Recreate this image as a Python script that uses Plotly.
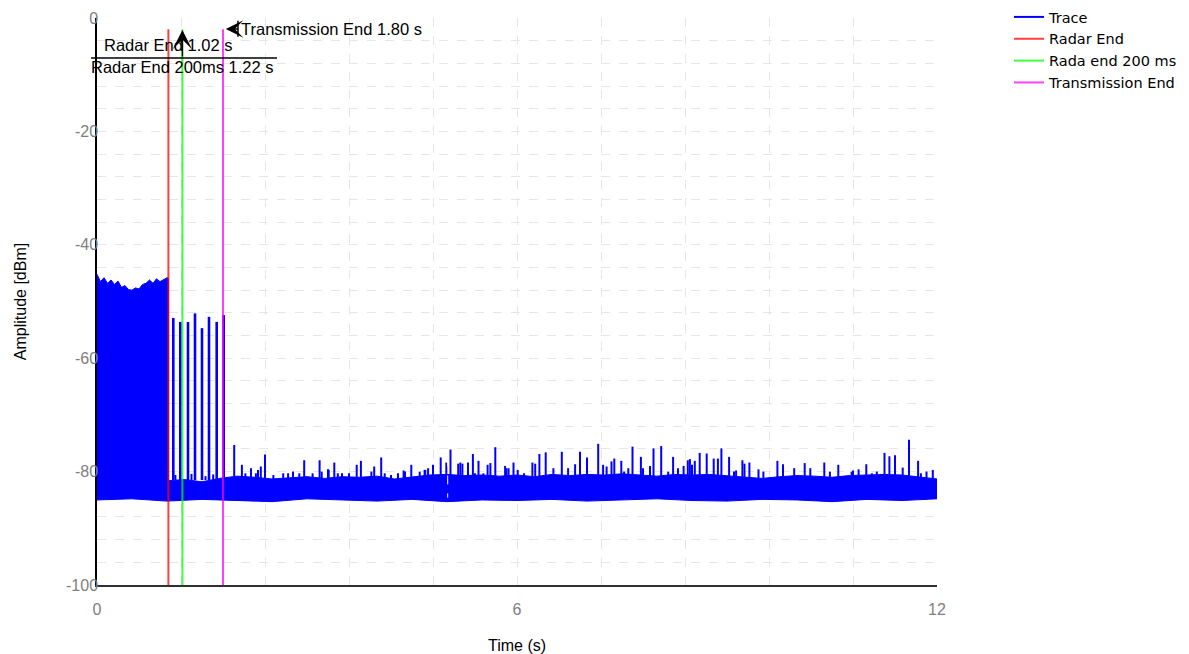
import plotly.graph_objects as go

# ---------------- data ----------------
# radar burst region: top envelope of the dense trace (s, dBm)
radar_t = [0.0, 0.05, 0.1, 0.15, 0.2, 0.25, 0.3, 0.35, 0.4, 0.45, 0.5,
           0.55, 0.6, 0.65, 0.7, 0.75, 0.8, 0.85, 0.9, 0.95, 1.0, 1.02]
radar_top = [-45.2, -46.5, -45.8, -46.8, -46.2, -47.0, -46.4, -47.5, -47.2, -47.9, -48.0,
             -47.6, -47.8, -47.0, -46.8, -46.2, -46.8, -46.0, -46.5, -46.2, -45.8, -45.9]

# noise floor band after radar end: top envelope
floor_t = [1.02, 1.25, 1.5, 1.75, 2.0, 2.25, 2.5, 2.75, 3.0, 3.25, 3.5, 3.75, 4.0,
           4.25, 4.5, 4.75, 5.0, 5.25, 5.5, 5.75, 6.0, 6.25, 6.5, 6.75, 7.0, 7.25,
           7.5, 7.75, 8.0, 8.25, 8.5, 8.75, 9.0, 9.25, 9.5, 9.75, 10.0, 10.25, 10.5,
           10.75, 11.0, 11.25, 11.5, 11.75, 12.0]
floor_top = [-81.6, -81.4, -81.8, -81.2, -80.8, -81.0, -81.3, -81.1, -80.9, -81.2, -80.9,
             -81.0, -80.8, -81.3, -80.9, -80.6, -80.5, -80.7, -80.6, -80.8, -80.6, -80.9,
             -80.5, -80.7, -80.5, -80.6, -80.4, -80.6, -80.8, -80.5, -80.6, -80.5, -80.7,
             -81.0, -81.2, -80.9, -80.7, -80.8, -81.0, -80.7, -80.6, -80.5, -80.6, -81.0, -81.3]

# bottom envelope of the whole trace
bottom_t = [0.0, 0.5, 1.0, 1.5, 2.0, 2.5, 3.0, 3.5, 4.0, 4.5, 5.0, 5.5, 6.0,
            6.5, 7.0, 7.5, 8.0, 8.5, 9.0, 9.5, 10.0, 10.5, 11.0, 11.5, 12.0]
bottom_val = [-85.0, -84.8, -85.2, -84.9, -85.1, -85.3, -84.8, -85.0, -85.2, -84.9, -85.3,
              -85.0, -85.1, -84.9, -85.2, -85.0, -84.8, -85.1, -85.2, -84.9, -85.0, -85.3,
              -84.9, -85.1, -84.8]

# residual pulses between radar end and transmission end
pulse_t = [1.09, 1.19, 1.30, 1.40, 1.50, 1.60, 1.71, 1.81]
pulse_peak = [-52.9, -53.6, -53.6, -52.1, -54.7, -52.7, -53.6, -52.4]

# tall noise spikes on the floor
spike_t = [1.96, 2.07, 2.20, 2.34, 2.40, 2.96, 3.18, 3.30, 3.39, 3.71, 3.77, 3.96, 4.06,
           4.38, 4.49, 4.69, 4.73, 4.80, 4.91, 4.99, 5.05, 5.19, 5.30,
           5.37, 5.45, 5.62, 5.69, 5.85, 5.95, 6.22, 6.32, 6.41, 6.64, 6.83, 6.90, 7.00,
           7.16, 7.28, 7.39, 7.49, 7.65, 7.77, 7.95, 8.06, 8.23, 8.47, 8.54, 8.61,
           8.71, 8.81, 8.92, 9.03, 9.13, 9.22, 9.32, 9.45, 9.72, 9.80, 9.96, 10.11,
           10.19, 10.39, 10.59, 10.80, 10.88, 10.99, 11.25, 11.32, 11.40, 11.51, 11.60,
           11.73, 11.94]
spike_peak = [-75.3, -78.8, -79.4, -79.1, -77.0, -78.0, -78.0, -79.6, -78.4, -78.8, -78.1,
              -79.1, -77.5, -79.8, -78.8, -79.7, -79.4, -78.8, -77.5, -78.4, -76.1, -78.4,
              -78.4, -76.9, -78.1, -78.5, -75.7, -79.4, -78.4, -78.4, -76.9, -76.6, -76.5,
              -78.7, -76.5, -77.5, -75.1, -79.1, -77.7, -78.1, -75.6, -77.4, -75.9, -75.5,
              -77.4, -77.8, -78.1, -76.7, -76.8, -77.7, -75.9, -77.4, -79.8, -78.0, -78.4,
              -79.6, -78.1, -78.7, -79.4, -78.5, -79.4, -78.4, -78.8, -79.8, -79.6, -78.7,
              -76.7, -77.3, -77.1, -79.3, -74.4, -78.1, -79.7]

# small bumps on the floor
bump_t = [1.12, 1.35, 1.55, 1.66, 2.12, 2.27, 2.30, 2.52, 2.66, 2.73, 2.80, 2.89, 3.08,
          3.21, 3.31, 3.44, 3.50, 3.60, 3.92, 4.11, 4.20, 4.30, 4.40, 4.61, 4.68, 5.16,
          5.22, 5.40, 5.52, 5.58, 5.83, 5.88, 6.01, 6.10, 6.26, 6.52, 6.73, 7.23, 7.35,
          7.53, 7.59, 7.80, 7.90, 8.16, 8.30, 8.38, 8.44, 8.50, 8.87, 9.10, 9.25, 9.52,
          10.47, 10.78, 11.07, 11.14, 11.77, 11.85]
bump_peak = [-80.6, -80.4, -80.8, -80.5, -80.3, -80.3, -79.7, -80.6, -80.3, -80.3, -80.0,
             -80.3, -80.3, -80.0, -79.7, -80.3, -80.3, -80.3, -80.0, -80.3, -80.6, -80.3,
             -80.0, -80.0, -79.7, -78.6, -78.6, -80.3, -80.3, -78.8, -79.0, -79.4, -79.7,
             -80.3, -78.6, -79.4, -79.4, -78.8, -78.2, -80.0, -79.4, -79.4, -79.0, -80.0,
             -79.4, -79.0, -78.0, -78.8, -77.7, -80.0, -78.6, -80.0, -80.0, -80.0, -80.3,
             -80.0, -80.3, -80.0]
spike_base = -81.5

# data gap seen in the trace (white dashed)
gap_t = 5.01
gap_range = [-77.5, -84.6]

# event markers
marker_names = ["Radar End", "Rada end 200 ms", "Transmission End"]
marker_t = [1.02, 1.22, 1.80]
marker_colors = ["#ff0000", "#00ff00", "#ff00ff"]
marker_top = -2.0
y_min, y_max = -100, 0
x_min, x_max = 0, 12
y_ticks = [0, -20, -40, -60, -80, -100]
y_ticktext = ["0", "-20", "-40", "-60", "-80", "-100"]
x_ticks = [0, 6, 12]
x_ticktext = ["0", "6", "12"]

FONT = "Liberation Sans"

fig = go.Figure()

# dense band (filled polygon from envelopes)
band_x = radar_t + floor_t + bottom_t[::-1]
band_y = radar_top + floor_top + bottom_val[::-1]
fig.add_trace(go.Scatter(x=band_x, y=band_y, mode="lines", fill="toself",
                         fillcolor="#0000ff", line=dict(color="#0000ff", width=1),
                         showlegend=False, hoverinfo="skip", legendgroup="trace"))

# pulses
px, py = [], []
for t, p in zip(pulse_t, pulse_peak):
    px += [t, t, None]
    py += [spike_base, p, None]
fig.add_trace(go.Scatter(x=px, y=py, mode="lines", line=dict(color="#0000ff", width=2.6),
                         showlegend=False, legendgroup="trace", hoverinfo="skip"))

# small bumps
bx, by = [], []
for t, p in zip(bump_t, bump_peak):
    bx += [t, t, None]
    by += [spike_base, p, None]
fig.add_trace(go.Scatter(x=bx, y=by, mode="lines", line=dict(color="#0000ff", width=2),
                         showlegend=False, legendgroup="trace", hoverinfo="skip"))

# noise spikes (legend entry "Trace")
sx, sy = [], []
for t, p in zip(spike_t, spike_peak):
    sx += [t, t, None]
    sy += [spike_base, p, None]
fig.add_trace(go.Scatter(x=sx, y=sy, mode="lines", name="Trace",
                         line=dict(color="#0000ff", width=2), legendgroup="trace"))

# marker lines
for name, t, c in zip(marker_names, marker_t, marker_colors):
    fig.add_trace(go.Scatter(x=[t, t], y=[marker_top, y_min], mode="lines", name=name,
                             line=dict(color=c, width=2), opacity=0.75))

# annotations
ann_font = dict(family=FONT, size=16.5, color="black")
annotations = [
    dict(x=marker_t[0], y=-4.76, xref="x", yref="y", text="Radar End 1.02 s",
         showarrow=False, font=ann_font, xanchor="center", yanchor="middle"),
    dict(x=marker_t[1], y=-8.7, xref="x", yref="y", text="Radar End 200ms 1.22 s",
         showarrow=False, font=ann_font, xanchor="center", yanchor="middle"),
    dict(x=marker_t[1], y=-2.1, xref="x", yref="y", text="", showarrow=True,
         ax=0, ay=28, arrowhead=3, arrowsize=2.3, arrowwidth=1.4,
         arrowcolor="black", standoff=0),
    dict(x=2.03, y=-1.94, xref="x", yref="y", text="Transmission End 1.80 s",
         showarrow=False, font=ann_font, xanchor="left", yanchor="middle"),
    dict(x=1.84, y=-1.94, xref="x", yref="y", text="", showarrow=True,
         ax=14, ay=0, arrowhead=3, arrowsize=2.1, arrowwidth=1.4,
         arrowcolor="black", standoff=0),
]

shapes = [
    dict(type="line", xref="paper", yref="paper", x0=-0.0071, x1=0.2143,
         y0=0.9295, y1=0.9295, line=dict(color="black", width=1.5)),
    dict(type="line", xref="x", yref="y", x0=2.014, x1=2.014, y0=-0.5, y1=-3.3,
         line=dict(color="black", width=1.5)),
    dict(type="line", xref="x", yref="y", x0=gap_t, x1=gap_t, y0=gap_range[0], y1=gap_range[1],
         line=dict(color="white", width=1, dash="dash"), layer="above"),
]

grid = "#e6e6e6"
# the page body adds an 8 px offset, so the figure is 8 px smaller and margins shifted
fig.update_layout(
    width=1181, height=646,
    margin=dict(l=89, r=252, t=10, b=69, autoexpand=False),
    paper_bgcolor="white", plot_bgcolor="white",
    font=dict(family=FONT, size=16, color="black"),
    annotations=annotations, shapes=shapes,
    legend=dict(x=1.0857, y=1.03, xanchor="left", yanchor="top",
                font=dict(family="DejaVu Sans", size=14.5, color="black"),
                tracegroupgap=0, itemwidth=30, bgcolor="rgba(0,0,0,0)"),
    xaxis=dict(range=[x_min, x_max], tickmode="array", tickvals=x_ticks, ticktext=x_ticktext,
               showline=True, linecolor="#303030", linewidth=2, mirror=False,
               showgrid=True, gridcolor=grid, griddash="dash", gridwidth=1,
               zeroline=False, ticks="", ticklabelstandoff=9,
               tickfont=dict(size=16, color="#808080"),
               minor=dict(tickmode="linear", tick0=0, dtick=1.2, showgrid=True,
                          gridcolor=grid, griddash="dash", gridwidth=1),
               title=dict(text="Time (s)", font=dict(size=16, color="black"), standoff=29)),
    yaxis=dict(range=[y_min, y_max], tickmode="array", tickvals=y_ticks, ticktext=y_ticktext,
               showline=True, linecolor="black", linewidth=1.5,
               showgrid=True, gridcolor=grid, griddash="dash", gridwidth=1,
               zeroline=False, ticks="", ticklabelstandoff=-6,
               tickfont=dict(size=16, color="#808080"),
               minor=dict(tickmode="linear", tick0=0, dtick=4, showgrid=True,
                          gridcolor=grid, griddash="dash", gridwidth=1),
               title=dict(text="Amplitude [dBm]", font=dict(size=16, color="black"), standoff=35)),
)

fig.write_html("out.html")
